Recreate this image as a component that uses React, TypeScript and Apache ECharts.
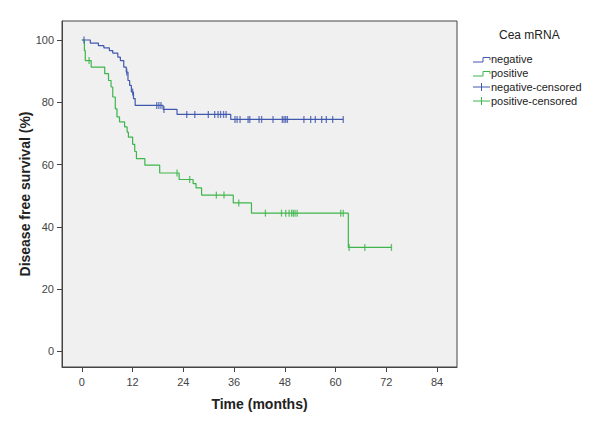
import React, { useEffect, useRef } from "react";
import * as echarts from "echarts";

// Kaplan–Meier step data (months, % disease free)
const negTimes = [0, 2.0, 3.9, 5.2, 6.5, 7.3, 8.5, 9.1, 9.9, 10.5, 10.9, 11.3, 11.7, 12.2, 12.6, 19.2, 22.5, 35.2, 61.8];
const negSurv = [100, 99.0, 98.2, 97.5, 96.6, 95.8, 94.5, 93.4, 91.3, 89.7, 87.0, 85.4, 83.3, 81.2, 79.0, 77.7, 76.1, 74.5, 74.5];
const negCensor = [0.5, 10.6, 12.0, 17.7, 18.2, 18.7, 19.4, 24.8, 26.7, 29.9, 31.4, 32.2, 32.8, 33.5, 34.1, 36.2, 36.7, 37.4, 39.3, 39.7, 41.9, 42.5, 45.2, 47.4, 47.8, 48.2, 48.6, 52.5, 54.1, 55.2, 56.7, 57.8, 59.3, 61.8];

const posTimes = [0, 0.6, 0.8, 2.2, 5.4, 6.3, 6.9, 7.3, 7.9, 8.3, 8.9, 10.1, 10.7, 11.0, 12.0, 12.5, 12.9, 14.9, 18.4, 23.0, 26.3, 27.0, 28.3, 35.8, 40.1, 63.0, 73.2];
const posSurv = [100, 96.6, 93.4, 91.3, 89.2, 87.0, 84.9, 81.7, 77.9, 75.3, 73.7, 72.1, 70.4, 68.8, 66.5, 64.2, 61.9, 59.8, 57.3, 55.2, 53.9, 52.5, 50.2, 47.7, 44.4, 33.4, 33.4];
const posCensor = [1.7, 22.5, 25.5, 31.8, 33.6, 37.1, 43.4, 47.2, 48.2, 49.0, 49.6, 50.0, 50.4, 50.9, 61.2, 61.8, 63.2, 66.9, 73.2];

const xTicks = [0, 12, 24, 36, 48, 60, 72, 84];
const yTicks = [0, 20, 40, 60, 80, 100];

const legendTitle = "Cea mRNA";
const groupNames = ["negative", "positive"];

const BLUE = "#4058AE";
const GREEN = "#3DB54A";
const AXIS = "#444";
const FONT = "'Liberation Sans', Arial, sans-serif";

function levelAt(times: number[], surv: number[], t: number): number {
  let v = surv[0];
  for (let i = 0; i < times.length; i++) {
    if (times[i] <= t) v = surv[i];
  }
  return v;
}

function buildOption(): any {
  const negLine = negTimes.map((t, i) => [t, negSurv[i]]);
  const posLine = posTimes.map((t, i) => [t, posSurv[i]]);
  const negC = negCensor.map((t) => [t, levelAt(negTimes, negSurv, t)]);
  const posC = posCensor.map((t) => [t, levelAt(posTimes, posSurv, t)]);

  const lx = 473;
  const tx = 491;
  const legendItems: any[] = [
    {
      type: "text",
      left: 499,
      top: 29,
      style: { text: legendTitle, fontSize: 12, fontFamily: FONT, fill: "#222" },
    },
    {
      type: "polyline",
      shape: { points: [[lx, 62], [lx + 10, 62], [lx + 10, 57.5], [lx + 17, 57.5], [lx + 17, 60]] },
      style: { stroke: BLUE, lineWidth: 1, fill: null },
    },
    {
      type: "text",
      left: tx,
      top: 53,
      style: { text: groupNames[0], fontSize: 11, fontFamily: FONT, fill: "#222" },
    },
    {
      type: "polyline",
      shape: { points: [[lx, 76], [lx + 10, 76], [lx + 10, 71.5], [lx + 17, 71.5], [lx + 17, 74]] },
      style: { stroke: GREEN, lineWidth: 1, fill: null },
    },
    {
      type: "text",
      left: tx,
      top: 67,
      style: { text: groupNames[1], fontSize: 11, fontFamily: FONT, fill: "#222" },
    },
    { type: "line", shape: { x1: lx, y1: 87, x2: lx + 17, y2: 87 }, style: { stroke: BLUE, lineWidth: 1 } },
    { type: "line", shape: { x1: lx + 8.5, y1: 83, x2: lx + 8.5, y2: 91 }, style: { stroke: BLUE, lineWidth: 1 } },
    {
      type: "text",
      left: tx,
      top: 81,
      style: { text: groupNames[0] + "-censored", fontSize: 11, fontFamily: FONT, fill: "#222" },
    },
    { type: "line", shape: { x1: lx, y1: 101, x2: lx + 17, y2: 101 }, style: { stroke: GREEN, lineWidth: 1 } },
    { type: "line", shape: { x1: lx + 8.5, y1: 97, x2: lx + 8.5, y2: 105 }, style: { stroke: GREEN, lineWidth: 1 } },
    {
      type: "text",
      left: tx,
      top: 95,
      style: { text: groupNames[1] + "-censored", fontSize: 11, fontFamily: FONT, fill: "#222" },
    },
  ];

  return {
    animation: false,
    backgroundColor: "#ffffff",
    grid: {
      left: 62,
      right: 143,
      top: 21,
      bottom: 59,
      show: true,
      backgroundColor: "#f0f0f0",
      borderColor: AXIS,
      borderWidth: 1,
    },
    xAxis: {
      type: "value",
      min: -4.7,
      max: 88.7,
      name: "Time (months)",
      nameLocation: "middle",
      nameGap: 30,
      nameMoveOverlap: false,
      nameTextStyle: { fontSize: 14, fontWeight: "bold", fontFamily: FONT, color: "#222" },
      splitLine: { show: false },
      axisLine: { show: true, onZero: false, lineStyle: { color: AXIS, width: 1 } },
      axisTick: { show: true, customValues: xTicks, length: 5, lineStyle: { color: AXIS } },
      axisLabel: { customValues: xTicks, fontSize: 11, fontFamily: FONT, color: "#444", margin: 9 },
    },
    yAxis: {
      type: "value",
      min: -5,
      max: 106.1,
      name: "Disease free survival (%)",
      nameLocation: "middle",
      nameGap: 30,
      nameMoveOverlap: false,
      nameTextStyle: { fontSize: 14, fontWeight: "bold", fontFamily: FONT, color: "#222" },
      splitLine: { show: false },
      axisLine: { show: true, onZero: false, lineStyle: { color: AXIS, width: 1 } },
      axisTick: { show: true, customValues: yTicks, length: 5, lineStyle: { color: AXIS } },
      axisLabel: { customValues: yTicks, fontSize: 11, fontFamily: FONT, color: "#444", margin: 8 },
    },
    series: [
      {
        name: groupNames[0],
        type: "line",
        step: "end",
        data: negLine,
        showSymbol: false,
        lineStyle: { color: BLUE, width: 1.2 },
        z: 3,
      },
      {
        name: groupNames[1],
        type: "line",
        step: "end",
        data: posLine,
        showSymbol: false,
        lineStyle: { color: GREEN, width: 1.2 },
        z: 3,
      },
      {
        name: groupNames[0] + "-censored",
        type: "scatter",
        data: negC,
        symbol: "rect",
        symbolSize: [1.3, 7],
        itemStyle: { color: BLUE },
        z: 4,
      },
      {
        name: groupNames[1] + "-censored",
        type: "scatter",
        data: posC,
        symbol: "rect",
        symbolSize: [1.3, 7],
        itemStyle: { color: GREEN },
        z: 4,
      },
    ],
    graphic: legendItems,
  };
}

export default function App() {
  const ref = useRef<HTMLDivElement>(null);
  useEffect(() => {
    if (!ref.current) return;
    const chart = echarts.init(ref.current, null, { renderer: "svg" });
    chart.setOption(buildOption());
    return () => chart.dispose();
  }, []);
  return (
    <div
      ref={ref}
      style={{ position: "fixed", left: 0, top: 0, width: 600, height: 426, background: "#fff" }}
    />
  );
}
